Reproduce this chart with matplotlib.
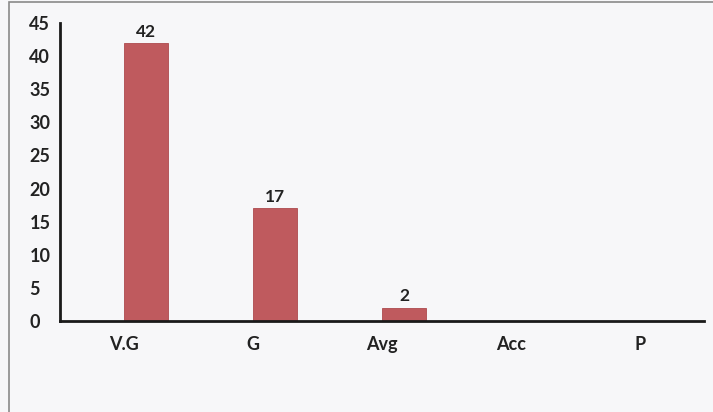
import numpy as np
import matplotlib.pyplot as plt
from matplotlib.patches import Rectangle

categories = ["V.G", "G", "Avg", "Acc", "P"]
counts = [42, 17, 2, 0, 0]
yticks = [0, 5, 10, 15, 20, 25, 30, 35, 40, 45]

plt.rcParams['font.family'] = ['Lato', 'DejaVu Sans']
plt.rcParams['font.weight'] = 'bold'

fig = plt.figure(figsize=(7.13, 4.12), dpi=100)
fig.patch.set_facecolor('#f7f7f9')
# outer frame of the scanned chart
fig.patches.append(Rectangle((9 / 713, -0.05), 1.0, 1 - 2 / 412 + 0.05,
                             transform=fig.transFigure, fill=False,
                             edgecolor='#8a8a8a', linewidth=1.2))

ax = fig.add_axes([60 / 713, 91 / 412, 644 / 713, 298 / 412])
ax.set_facecolor('none')

x = np.arange(len(categories))
shown = [i for i, v in enumerate(counts) if v > 0]
bars = ax.bar(x[shown] + 0.17, [counts[i] for i in shown], width=0.34,
              color='#bf5a5e', edgecolor='#ad4a4e', linewidth=0.6)
for i in shown:
    ax.text(x[i] + 0.17, counts[i] + 0.5, str(counts[i]), ha='center', va='bottom',
            fontsize=12.5, fontweight='bold', color='#222222')

ax.set_xlim(-0.5, len(categories) - 0.5)
ax.set_ylim(0, 45)
ax.set_yticks(yticks)
ax.set_xticks(x)
ax.set_xticklabels(categories)
ax.tick_params(axis='x', length=0, pad=11, labelsize=13, labelcolor='#222222')
ax.tick_params(axis='y', length=0, pad=22, labelsize=13, labelcolor='#222222')
for lab in ax.get_xticklabels() + ax.get_yticklabels():
    lab.set_fontweight('bold')
for lab in ax.get_yticklabels():
    lab.set_horizontalalignment('left')

for s in ['top', 'right']:
    ax.spines[s].set_visible(False)
ax.spines['left'].set_linewidth(2)
ax.spines['bottom'].set_linewidth(2)
ax.spines['left'].set_color('#1a1a1a')
ax.spines['bottom'].set_color('#1a1a1a')

fig.savefig('out.png', dpi=100, facecolor=fig.get_facecolor())
